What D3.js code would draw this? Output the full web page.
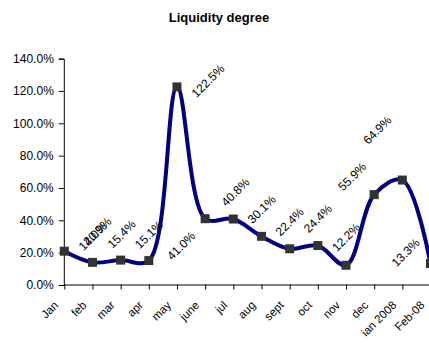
<!DOCTYPE html>
<html>
<head>
<meta charset="utf-8">
<script src="https://cdn.jsdelivr.net/npm/d3@7"></script>
<style>
  html, body { margin: 0; padding: 0; background: #fff; }
  svg { display: block; font-family: "Liberation Sans", Arial, sans-serif; }
</style>
</head>
<body>
<svg id="chart" width="429" height="343"></svg>
<script>
// Monthly liquidity degree, in percent
const categories = ["Jan", "feb", "mar", "apr", "may", "june", "jul", "aug", "sept", "oct", "nov", "dec", "ian 2008", "Feb-08"];
const values = [20.9, 14.0, 15.4, 15.1, 122.5, 41.0, 40.8, 30.1, 22.4, 24.4, 12.2, 55.9, 64.9, 13.3];
const yTicks = [0, 20, 40, 60, 80, 100, 120, 140];

// Where each value label sits relative to its point (pixels)
const labelOffsets = [[33, -20], [0, -26], [1, -26], [0, -26], [31, -6], [-24, 27], [2, -27],
                      [0, -27], [0, -27], [0, -27], [0, -28], [-22, -18], [-25, -50], [-25, -11]];

const svg = d3.select("#chart");

const x = d3.scalePoint().domain(categories).range([64.3, 430.5]);
const y = d3.scaleLinear().domain([0, 140]).range([285, 58.6]);

// Title
svg.append("text")
  .attr("x", 219).attr("y", 21.5)
  .attr("text-anchor", "middle")
  .attr("font-size", 13).attr("font-weight", "bold")
  .text("Liquidity degree");

// Y axis
const yAxis = svg.append("g")
  .attr("transform", "translate(63.8,0)")
  .call(d3.axisLeft(y).tickValues(yTicks).tickSize(5).tickPadding(5)
        .tickFormat(d => d.toFixed(1) + "%"));
yAxis.select(".domain").attr("stroke", "#000");
yAxis.selectAll(".tick line").attr("stroke", "#000");
yAxis.selectAll("text").attr("font-size", 12).attr("font-family", "Liberation Sans, Arial, sans-serif").attr("fill", "#000");

// X axis
const xAxis = svg.append("g")
  .attr("transform", "translate(0,284.5)")
  .call(d3.axisBottom(x).tickSize(5).tickSizeOuter(0).tickFormat(""));
xAxis.select(".domain").attr("stroke", "#000").attr("d", "M64.3,0.5H440");
xAxis.selectAll(".tick line").attr("stroke", "#000");

svg.append("g").selectAll("text")
  .data(categories)
  .join("text")
  .attr("transform", d => `translate(${x(d) - 8},303) rotate(-45)`)
  .attr("text-anchor", "end")
  .attr("dy", "0.35em")
  .attr("font-size", 11.5)
  .text(d => d);

// Smoothed series line
const line = d3.line()
  .x((d, i) => x(categories[i]))
  .y(d => y(d))
  .curve(d3.curveCatmullRom.alpha(0.5));

svg.append("path")
  .datum(values)
  .attr("d", line)
  .attr("fill", "none")
  .attr("stroke", "#000080")
  .attr("stroke-width", 4)
  .attr("stroke-linejoin", "round");

// Square markers
const ms = 9;
svg.append("g").selectAll("rect")
  .data(values)
  .join("rect")
  .attr("x", (d, i) => x(categories[i]) - ms / 2)
  .attr("y", d => y(d) - ms / 2)
  .attr("width", ms).attr("height", ms)
  .attr("fill", "#333333");

// Value labels, rotated
svg.append("g").selectAll("text")
  .data(values)
  .join("text")
  .attr("transform", (d, i) => `translate(${x(categories[i]) + labelOffsets[i][0]},${y(d) + labelOffsets[i][1]}) rotate(-45)`)
  .attr("text-anchor", "middle")
  .attr("dy", "0.35em")
  .attr("font-size", 12)
  .text(d => d.toFixed(1) + "%");
</script>
</body>
</html>
